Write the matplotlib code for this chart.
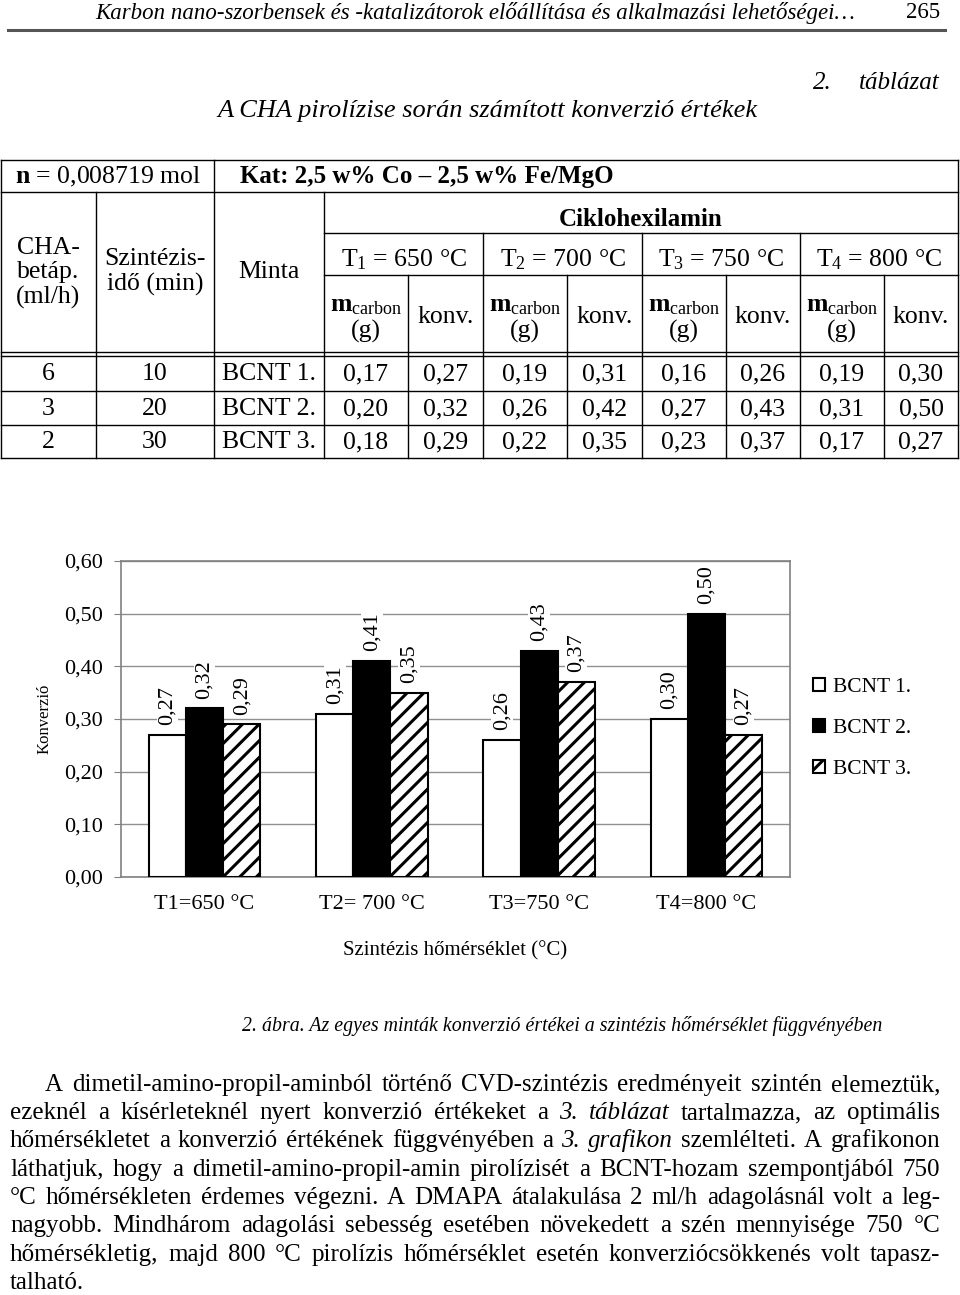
import numpy as np
import matplotlib
matplotlib.use('Agg')
import matplotlib.pyplot as plt
from matplotlib.patches import Patch

plt.rcParams['font.family'] = ['Liberation Serif', 'DejaVu Serif']
plt.rcParams['mathtext.fontset'] = 'custom'
plt.rcParams['mathtext.rm'] = 'Liberation Serif'
plt.rcParams['mathtext.it'] = 'Liberation Serif:italic'
plt.rcParams['mathtext.bf'] = 'Liberation Serif:bold'
plt.rcParams['hatch.linewidth'] = 2.2

# ---- data ----
temps = ['T1=650 °C', 'T2= 700 °C', 'T3=750 °C', 'T4=800 °C']
col_temps = ['T$_1$ = 650 °C', 'T$_2$ = 700 °C', 'T$_3$ = 750 °C', 'T$_4$ = 800 °C']
samples = ['BCNT 1.', 'BCNT 2.', 'BCNT 3.']
feed = ['6', '3', '2']
synth_time = ['10', '20', '30']
m_carbon = [[0.17, 0.19, 0.16, 0.19],
            [0.20, 0.26, 0.27, 0.31],
            [0.18, 0.22, 0.23, 0.17]]
konv = [[0.27, 0.31, 0.26, 0.30],
        [0.32, 0.42, 0.43, 0.50],
        [0.29, 0.35, 0.37, 0.27]]
chart_bcnt1 = [0.27, 0.31, 0.26, 0.30]
chart_bcnt2 = [0.32, 0.41, 0.43, 0.50]
chart_bcnt3 = [0.29, 0.35, 0.37, 0.27]
yticks = [0.0, 0.1, 0.2, 0.3, 0.4, 0.5, 0.6]

para = [
    [("A dimetil-amino-propil-aminból történő CVD-szintézis eredményeit szintén elemeztük,", False)],
    [("ezeknél a kísérleteknél nyert konverzió értékeket a", False), ("3. táblázat", True),
     ("tartalmazza, az optimális", False)],
    [("hőmérsékletet a konverzió értékének függvényében a", False), ("3. grafikon", True),
     ("szemlélteti. A grafikonon", False)],
    [("láthatjuk, hogy a dimetil-amino-propil-amin pirolízisét a BCNT-hozam szempontjából 750", False)],
    [("°C hőmérsékleten érdemes végezni. A DMAPA átalakulása 2 ml/h adagolásnál volt a leg-", False)],
    [("nagyobb. Mindhárom adagolási sebesség esetében növekedett a szén mennyisége 750 °C", False)],
    [("hőmérsékletig, majd 800 °C pirolízis hőmérséklet esetén konverziócsökkenés volt tapasz-", False)],
    [("talható.", False)],
]


def fmt(v):
    return ('%.2f' % v).replace('.', ',')


fig = plt.figure(figsize=(9.6, 12.95), dpi=100)
page = fig.add_axes([0, 0, 1, 1])
page.set_xlim(0, 960)
page.set_ylim(1295, 0)
page.axis('off')

# header
page.text(855, 13, 'Karbon nano-szorbensek és -katalizátorok előállítása és alkalmazási lehetőségei…',
          ha='right', va='center', style='italic', fontsize=16.5)
page.text(940, 13, '265', ha='right', va='center', fontsize=16.5)
page.plot([8, 945], [30, 30], color='#555555', lw=2.2)

page.text(832, 83, '2.', ha='right', va='center', style='italic', fontsize=18)
page.text(940, 83, 'táblázat', ha='right', va='center', style='italic', fontsize=18)
page.text(487, 111, 'A CHA pirolízise során számított konverzió értékek', ha='center', va='center',
          style='italic', fontsize=19)

# table grid
def hl(y, x0=1, x1=958):
    page.plot([x0, x1], [y, y], color='black', lw=1.0)

def vl(x, y0, y1=458):
    page.plot([x, x], [y0, y1], color='black', lw=1.0)

for y in [160, 192, 352, 355.5, 391, 425, 458]:
    hl(y)
hl(233, 324)
hl(275, 324)
vl(1, 160)
vl(958, 160)
vl(214, 160)
vl(96, 192)
vl(324, 192)
for x in [483, 642, 800]:
    vl(x, 233)
for x in [408, 567, 726, 884]:
    vl(x, 275)

tfs = 18.5
page.text(15, 177, r'$\mathbf{n}$ = 0,008719 mol', ha='left', va='center', fontsize=tfs)
page.text(240, 177, 'Kat: 2,5 w% Co – 2,5 w% Fe/MgO', ha='left', va='center', fontsize=18,
          fontweight='bold')
page.text(641, 219, 'Ciklohexilamin', ha='center', va='center', fontsize=18, fontweight='bold')
page.text(48, 273, 'CHA-\nbetáp.\n(ml/h)', ha='center', va='center', fontsize=tfs, linespacing=1.12)
page.text(155, 272, 'Szintézis-\nidő (min)', ha='center', va='center', fontsize=tfs, linespacing=1.18)
page.text(269, 272, 'Minta', ha='center', va='center', fontsize=tfs)

t_cent = [403.5, 562.5, 721, 879]
m_cent = [366, 525, 684, 842]
k_cent = [445.5, 604.5, 763, 921]
for i in range(4):
    page.text(t_cent[i], 260, col_temps[i], ha='center', va='center', fontsize=tfs)
    page.text(m_cent[i], 306, r'$\mathbf{m}_{\mathrm{carbon}}$', ha='center', va='center', fontsize=tfs)
    page.text(m_cent[i], 331, '(g)', ha='center', va='center', fontsize=tfs)
    page.text(k_cent[i], 317, 'konv.', ha='center', va='center', fontsize=tfs)

row_y = [374, 409, 442]
for r in range(3):
    page.text(48, row_y[r], feed[r], ha='center', va='center', fontsize=tfs)
    page.text(155, row_y[r], synth_time[r], ha='center', va='center', fontsize=tfs)
    page.text(269, row_y[r], samples[r], ha='center', va='center', fontsize=tfs)
    for i in range(4):
        page.text(m_cent[i], row_y[r], fmt(m_carbon[r][i]), ha='center', va='center', fontsize=tfs)
        page.text(k_cent[i], row_y[r], fmt(konv[r][i]), ha='center', va='center', fontsize=tfs)

# chart
ax = fig.add_axes([121 / 960, (1295 - 877) / 1295, 669 / 960, 316 / 1295])
x = np.arange(len(temps))
w = 0.222
ax.bar(x - w, chart_bcnt1, w, color='white', edgecolor='black', lw=1.5, zorder=3)
ax.bar(x, chart_bcnt2, w, color='black', edgecolor='black', lw=1.5, zorder=3)
ax.bar(x + w, chart_bcnt3, w, color='white', edgecolor='black', hatch='//', lw=1.5, zorder=3)
for xs, vals in [(x - w, chart_bcnt1), (x, chart_bcnt2), (x + w, chart_bcnt3)]:
    for xi, v in zip(xs, vals):
        ax.annotate(fmt(v), (xi, v), xytext=(0, 7), textcoords='offset points', rotation=90,
                    ha='center', va='bottom', fontsize=16, zorder=4,
                    bbox=dict(fc='white', ec='none', pad=1))
ax.set_xlim(-0.5, 3.5)
ax.set_ylim(0, 0.6)
ax.set_yticks(yticks)
ax.set_yticklabels([fmt(v) for v in yticks])
ax.set_xticks(x)
ax.set_xticklabels(temps)
ax.yaxis.grid(True, color='#909090', lw=1)
ax.set_axisbelow(True)
for s in ax.spines.values():
    s.set_color('#808080')
    s.set_linewidth(1.2)
ax.tick_params(axis='y', direction='out', length=5, color='#808080', labelsize=16, pad=8)
ax.tick_params(axis='x', length=0, labelsize=16, pad=13)
handles = [Patch(fc='white', ec='black', lw=1.5), Patch(fc='black', ec='black', lw=1.5),
           Patch(fc='white', ec='black', hatch='//', lw=1.5)]
ax.legend(handles, samples, loc='center left', bbox_to_anchor=(1.005, 0.47), frameon=False,
          fontsize=15.5, handlelength=0.55, handleheight=0.55, handletextpad=0.4, labelspacing=1.0)

page.text(45, 719, 'Konverzió', rotation=90, ha='center', va='center', fontsize=12)
page.text(455, 951, 'Szintézis hőmérséklet (°C)', ha='center', va='center', fontsize=15)

page.text(242, 1031, '2. ábra. Az egyes minták konverzió értékei a szintézis hőmérséklet függvényében',
          ha='left', va='baseline', style='italic', fontsize=14.3)

# justified paragraph
body_fs = 18
renderer = fig.canvas.get_renderer()


def word_width(s, italic):
    t = page.text(0, 0, s, fontsize=body_fs, style='italic' if italic else 'normal')
    ww = t.get_window_extent(renderer).width
    t.remove()
    return ww


line_base = [1091, 1119, 1147, 1176, 1204, 1232, 1261, 1289]
right = 940
for li, line in enumerate(para):
    words = [(wd, it) for chunk, it in line for wd in chunk.split()]
    widths = [word_width(wd, it) for wd, it in words]
    left = 45 if li == 0 else 10
    if li == len(para) - 1:
        gap = 6
    else:
        gap = (right - left - sum(widths)) / (len(words) - 1)
    xp = left
    for (wd, it), ww in zip(words, widths):
        page.text(xp, line_base[li], wd, ha='left', va='baseline', fontsize=body_fs,
                  style='italic' if it else 'normal')
        xp += ww + gap

fig.savefig('out.png', dpi=100)
